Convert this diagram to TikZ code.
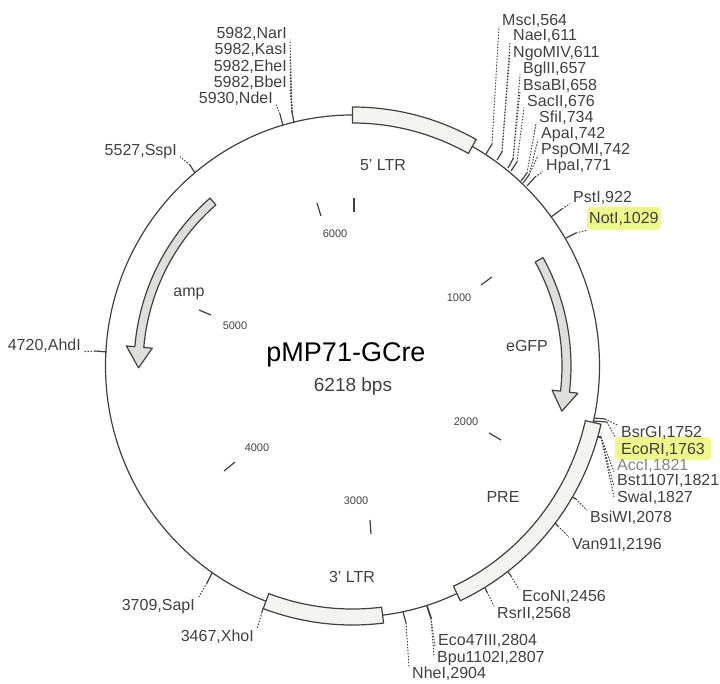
\documentclass[tikz,border=0pt]{standalone}
\usepackage{fontspec}
\setmainfont{Liberation Sans}
\definecolor{inkgray}{HTML}{404040}
\definecolor{bandfill}{HTML}{F3F3F1}
\definecolor{arrowfill}{HTML}{DEDEDC}
\definecolor{marker}{HTML}{EEF78A}
\tikzset{
  site/.style={font=\fontsize{16}{16}\selectfont, text=inkgray, inner xsep=3pt, inner ysep=0pt, text height=12pt, text depth=1pt},
  feat/.style={font=\fontsize{16}{16}\selectfont, text=inkgray, inner sep=0pt},
  scalelab/.style={font=\fontsize{11}{11}\selectfont, text=inkgray, inner sep=0pt},
  sitetick/.style={draw=inkgray, line width=1.2pt},
  leader/.style={draw=inkgray, line width=1pt, dash pattern=on 1.5pt off 1.5pt},
  band/.style={draw=inkgray, line width=1.2pt, fill=bandfill},
  ringarrow/.style={draw=inkgray, line width=1.2pt, fill=arrowfill, line join=round}
}
\newcommand{\featband}[2]{\draw[band] (#1:255 and 259) arc[start angle=#1, end angle=#2, x radius=255, y radius=259] -- (#2:239 and 243) arc[start angle=#2, end angle=#1, x radius=239, y radius=243] -- cycle;}
\newcommand{\ringarr}[3]{\draw[ringarrow] (#1:218.5 and 221.5) arc[start angle=#1, end angle=#2, x radius=218.5, y radius=221.5] -- (#2:227 and 230) -- (#3:214 and 217) -- (#2:201 and 204) -- (#2:209.5 and 212.5) arc[start angle=#2, end angle=#1, x radius=209.5, y radius=212.5] -- cycle;}
\begin{document}
\begin{tikzpicture}[x=1pt,y=-1pt]
  \useasboundingbox (0,0) rectangle (720,684);
  % ring and features
  \begin{scope}[shift={(352.5,366)}]
    \draw[draw=inkgray, line width=1.2pt] (0,0) ellipse [x radius=247, y radius=251];
    \featband{-90}{-61}
    \featband{13}{65}
    \featband{83}{110.5}
    \ringarr{-29.3}{6.8}{12}
    \ringarr{229.3}{185}{179.5}
  \end{scope}
  % centre and feature labels
  \node[font=\fontsize{27}{27}\selectfont, inner sep=0pt] (title) at (346,355) {pMP71-GCre};
  \node[font=\fontsize{19}{19}\selectfont, text=inkgray, inner sep=0pt] (size) at (353,387) {6218 bps};
  \node[feat] (ltrfive) at (383,165) {5' LTR};
  \node[feat] (amp) at (189,294) {amp};
  \node[feat] (egfp) at (527,346) {eGFP};
  \node[feat] (pre) at (503,497) {PRE};
  \node[feat] (ltrthree) at (352,577) {3' LTR};
  % scale marks
  \draw[sitetick] (317,203)--(321,216);
  \draw[sitetick] (354,198)--(354,212);
  \draw[sitetick] (481,285)--(492,277);
  \draw[sitetick] (489,433)--(501,440);
  \draw[sitetick] (370,520)--(371,534);
  \draw[sitetick] (224,471)--(235,462);
  \draw[sitetick] (199,310)--(211,315);
  \node[scalelab] (kb6) at (335,234) {6000};
  \node[scalelab] (kb1) at (459,298) {1000};
  \node[scalelab] (kb2) at (466,422) {2000};
  \node[scalelab] (kb3) at (356,501) {3000};
  \node[scalelab] (kb4) at (257,448) {4000};
  \node[scalelab] (kb5) at (235,326) {5000};
  % site labels, right side
  \node[site, anchor=west, fill=marker, rounded corners=3pt, minimum height=23pt, inner xsep=2pt] (NotI) at (587,218.5) {NotI,1029};
  \node[site, anchor=west, fill=marker, rounded corners=3pt, minimum height=23pt, inner xsep=6pt] (EcoRI) at (615,448.5) {EcoRI,1763};
  \node[site, anchor=west] (MscI) at (499,20) {MscI,564};
  \node[site, anchor=west] (NaeI) at (510,35) {NaeI,611};
  \node[site, anchor=west] (NgoMIV) at (510,52) {NgoMIV,611};
  \node[site, anchor=west] (BglII) at (520,68) {BglII,657};
  \node[site, anchor=west] (BsaBI) at (520,85) {BsaBI,658};
  \node[site, anchor=west] (SacII) at (524,101) {SacII,676};
  \node[site, anchor=west] (SfiI) at (536,117) {SfiI,734};
  \node[site, anchor=west] (ApaI) at (538,133) {ApaI,742};
  \node[site, anchor=west] (PspOMI) at (538,149) {PspOMI,742};
  \node[site, anchor=west] (HpaI) at (543,165) {HpaI,771};
  \node[site, anchor=west] (PstI) at (570,197) {PstI,922};
  \node[site, anchor=west] (BsrGI) at (618,432) {BsrGI,1752};
  \node[site, anchor=west, text=inkgray!65] (AccI) at (614,465) {AccI,1821};
  \node[site, anchor=west] (Bst) at (614,480) {Bst1107I,1821};
  \node[site, anchor=west] (SwaI) at (614,497) {SwaI,1827};
  \node[site, anchor=west] (BsiWI) at (587,517) {BsiWI,2078};
  \node[site, anchor=west] (Van) at (569,544) {Van91I,2196};
  \node[site, anchor=west] (EcoNI) at (519,596) {EcoNI,2456};
  \node[site, anchor=west] (RsrII) at (494,613) {RsrII,2568};
  \node[site, anchor=west] (Eco47) at (435,640) {Eco47III,2804};
  \node[site, anchor=west] (Bpu) at (434,657) {Bpu1102I,2807};
  \node[site, anchor=west] (NheI) at (409,673) {NheI,2904};
  % site labels, left side
  \node[site, anchor=east] (NarI) at (290,33) {5982,NarI};
  \node[site, anchor=east] (KasI) at (290,49) {5982,KasI};
  \node[site, anchor=east] (EheI) at (290,66) {5982,EheI};
  \node[site, anchor=east] (BbeI) at (290,82) {5982,BbeI};
  \node[site, anchor=east] (NdeI) at (276,98) {5930,NdeI};
  \node[site, anchor=east] (SspI) at (180,150) {5527,SspI};
  \node[site, anchor=east] (AhdI) at (84,345) {4720,AhdI};
  \node[site, anchor=east] (SapI) at (198,605) {3709,SapI};
  \node[site, anchor=east] (XhoI) at (257,636) {3467,XhoI};
  % ticks and leaders
  \draw[sitetick] (486,154)--(492,144) coordinate (tMsc);
  \draw[leader] (tMsc)--(MscI.south west);
  \draw[sitetick] (497,160)--(502,152) coordinate (tNae);
  \draw[leader] (tNae)--(NaeI.south west);
  \draw[leader] (tNae)--(NgoMIV.west);
  \draw[sitetick] (508,168)--(513,159) coordinate (tBgl);
  \draw[leader] (tBgl)--(BglII.south west);
  \draw[leader] (tBgl)--(BsaBI.south west);
  \draw[sitetick] (511,171)--(517,162) coordinate (tSac);
  \draw[leader] (tSac)--(SacII.south west);
  \draw[sitetick] (521,181)--(527,173) coordinate (tSfi);
  \draw[leader] (tSfi)--(SfiI.south west);
  \draw[sitetick] (523,183)--(529,175) coordinate (tApa);
  \draw[leader] (tApa)--(ApaI.south west);
  \draw[leader] (tApa)--(PspOMI.south west);
  \draw[sitetick] (527,186)--(535,177) coordinate (tHpa);
  \draw[leader] (tHpa)--(HpaI.south west);
  \draw[sitetick] (551,217)--(562,209) coordinate (tPst);
  \draw[leader] (tPst)--(PstI.south west);
  \draw[sitetick] (566,238)--(576,233) coordinate (tNot);
  \draw[leader] (tNot)--(NotI.south west);
  \draw[sitetick] (594,418)--(605,419) coordinate (tBsr);
  \draw[leader] (tBsr)--(BsrGI.north west);
  \draw[sitetick] (593,421)--(607,422) coordinate (tEco);
  \draw[leader] (tEco)--(EcoRI.north west);
  \draw[sitetick] (598,437)--(601,437) coordinate (tAcc);
  \draw[leader] (tAcc)--(AccI.south west);
  \draw[leader] (tAcc)--(Bst.south west);
  \draw[leader] (tAcc)--(SwaI.west);
  \draw[sitetick] (572,497)--(576,499) coordinate (tBsi);
  \draw[leader] (tBsi)--(BsiWI.north west);
  \draw[sitetick] (555,523)--(558,526) coordinate (tVan);
  \draw[leader] (tVan)--(Van.north west);
  \draw[sitetick] (508,572)--(511,576) coordinate (tEcn);
  \draw[leader] (tEcn)--(EcoNI.north west);
  \draw[sitetick] (485,588)--(487,592) coordinate (tRsr);
  \draw[leader] (tRsr)--(RsrII.north west);
  \draw[sitetick, line width=1.7pt] (427,606)--(431,618) coordinate (tE47);
  \draw[leader] (tE47)--(Eco47.south west);
  \draw[leader] (tE47)--(Bpu.west);
  \draw[sitetick] (403,612)--(406,623) coordinate (tNhe);
  \draw[leader] (tNhe)--(NheI.north west);
  \draw[sitetick] (294,123)--(292,112) coordinate (tNar);
  \draw[leader] (tNar)--(NarI.south east);
  \draw[leader] (tNar)--(KasI.south east);
  \draw[leader] (tNar)--(EheI.south east);
  \draw[leader] (tNar)--(BbeI.south east);
  \draw[sitetick] (283,126)--(280,114) coordinate (tNde);
  \draw[leader] (tNde)--(NdeI.south east);
  \draw[sitetick] (195,173)--(190,165) coordinate (tSsp);
  \draw[leader] (tSsp)--(SspI.south east);
  \draw[sitetick] (107,352)--(95,351) coordinate (tAhd);
  \draw[leader] (tAhd)--(AhdI.south east);
  \draw[sitetick] (212,573)--(207,583) coordinate (tSap);
  \draw[leader] (tSap)--(SapI.north east);
  \draw[sitetick] (263,608)--(262,612) coordinate (tXho);
  \draw[leader] (tXho)--(XhoI.north east);
\end{tikzpicture}
\end{document}
